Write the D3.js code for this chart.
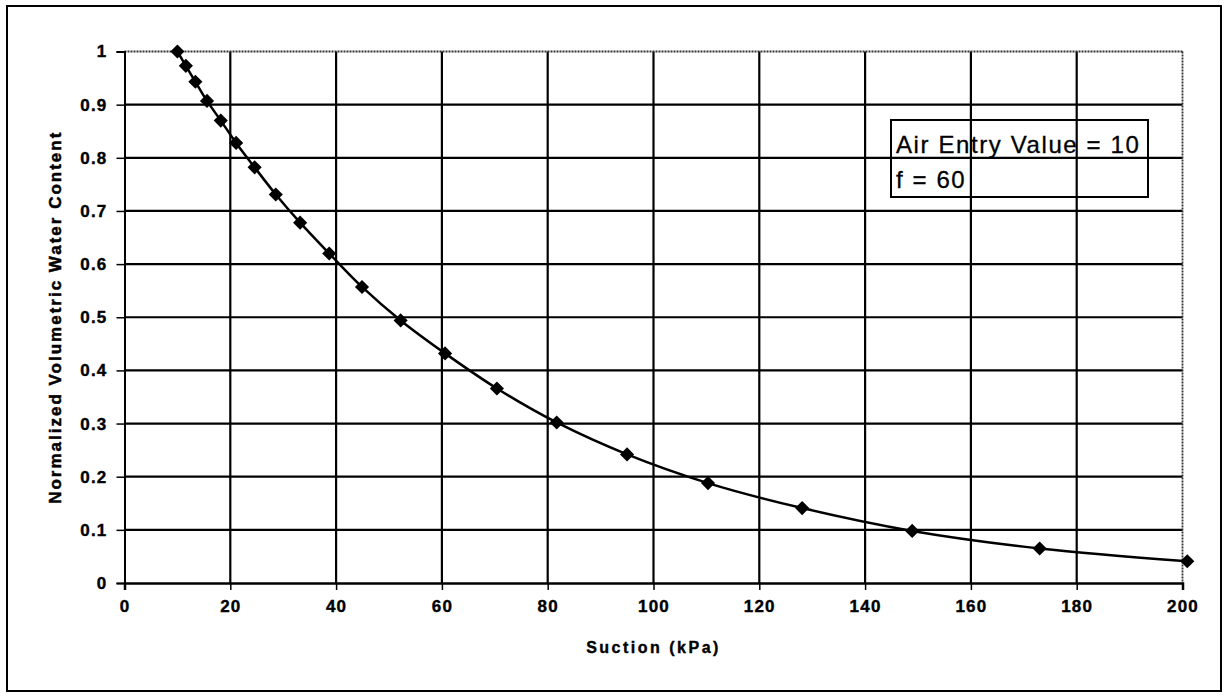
<!DOCTYPE html>
<html>
<head>
<meta charset="utf-8">
<script src="https://cdn.jsdelivr.net/npm/d3@7"></script>
<style>
  html, body { margin: 0; padding: 0; background: #fff; }
  svg { display: block; }
  text { font-family: Arial, "Liberation Sans", Helvetica, sans-serif; fill: #000; }
</style>
</head>
<body>
<svg id="chart" width="1229" height="700"></svg>
<script>
// Suction (kPa) at each computed point
const suction = [10, 11.6, 13.4, 15.6, 18.2, 21.1, 24.6, 28.6, 33.2, 38.7, 44.9,
                 52.2, 60.6, 70.4, 81.7, 95.0, 110.3, 128.1, 148.9, 173.0, 200.9];
// Normalized volumetric water content at each suction
const waterContent = [1.0, 0.973, 0.943, 0.907, 0.870, 0.828, 0.782, 0.731, 0.678, 0.620, 0.557,
                      0.494, 0.432, 0.366, 0.302, 0.242, 0.188, 0.141, 0.098, 0.065, 0.041];

const xTicks = [0, 20, 40, 60, 80, 100, 120, 140, 160, 180, 200];
const yTicks = [0, 0.1, 0.2, 0.3, 0.4, 0.5, 0.6, 0.7, 0.8, 0.9, 1];
const yTickLabels = ["0", "0.1", "0.2", "0.3", "0.4", "0.5", "0.6", "0.7", "0.8", "0.9", "1"];

const noteLines = ["Air Entry Value = 10", "f = 60"];

const svg = d3.select("#chart");

// outer chart border
svg.append("rect")
  .attr("x", 7).attr("y", 6).attr("width", 1214).attr("height", 685)
  .attr("fill", "none").attr("stroke", "#000").attr("stroke-width", 2);

const plot = { left: 124.5, right: 1182.5, top: 51.5, bottom: 583 };

const x = d3.scaleLinear().domain([0, 200]).range([plot.left, plot.right]);
const y = d3.scaleLinear().domain([0, 1]).range([plot.bottom, plot.top]);

// gridlines
const grid = svg.append("g");
grid.selectAll("line.v")
  .data(xTicks.filter(t => t > 0 && t < 200))
  .join("line")
  .attr("x1", d => x(d)).attr("x2", d => x(d))
  .attr("y1", plot.top).attr("y2", plot.bottom)
  .attr("stroke", "#000").attr("stroke-width", 2.2);
grid.selectAll("line.h")
  .data(yTicks.filter(t => t > 0 && t < 1))
  .join("line")
  .attr("x1", plot.left).attr("x2", plot.right)
  .attr("y1", d => y(d)).attr("y2", d => y(d))
  .attr("stroke", "#000").attr("stroke-width", 2.2);

// plot area frame (dotted)
const frame = svg.append("g").attr("fill", "none");
frame.append("line")
  .attr("x1", plot.left).attr("x2", plot.right).attr("y1", plot.top).attr("y2", plot.top)
  .attr("stroke", "#333").attr("stroke-width", 1.8).attr("stroke-dasharray", "2,1");
frame.append("line")
  .attr("x1", plot.right).attr("x2", plot.right).attr("y1", plot.top).attr("y2", plot.bottom)
  .attr("stroke", "#333").attr("stroke-width", 1.8).attr("stroke-dasharray", "2,1");

// x axis
const xAxis = d3.axisBottom(x).tickValues(xTicks).tickSize(7).tickPadding(10).tickFormat(d3.format("d"));
const gx = svg.append("g").attr("transform", `translate(0,${plot.bottom})`).call(xAxis);
gx.select(".domain").attr("stroke", "#000").attr("stroke-width", 2.5);
gx.selectAll(".tick line").attr("stroke", "#000").attr("stroke-width", 1.5);
gx.selectAll(".tick text")
  .attr("font-size", 17).attr("font-weight", "bold").attr("letter-spacing", 1.2)
  .attr("stroke", "#000").attr("stroke-width", 0.4)
  .attr("fill", "#000");

// y axis
const yAxis = d3.axisLeft(y).tickValues(yTicks).tickSize(8).tickPadding(9)
  .tickFormat((d, i) => yTickLabels[i]);
const gy = svg.append("g").attr("transform", `translate(${plot.left},0)`).call(yAxis);
gy.select(".domain").attr("stroke", "#000").attr("stroke-width", 2);
gy.selectAll(".tick line").attr("stroke", "#000").attr("stroke-width", 1.5);
gy.selectAll(".tick text")
  .attr("font-size", 17).attr("font-weight", "bold").attr("letter-spacing", 1.2)
  .attr("stroke", "#000").attr("stroke-width", 0.4)
  .attr("fill", "#000");

// axis titles
svg.append("text")
  .attr("x", (plot.left + plot.right) / 2).attr("y", 653)
  .attr("text-anchor", "middle")
  .attr("font-size", 16).attr("font-weight", "bold").attr("letter-spacing", 2.5)
  .attr("stroke", "#000").attr("stroke-width", 0.4)
  .text("Suction (kPa)");

svg.append("text")
  .attr("transform", `translate(61,${(plot.top + plot.bottom) / 2}) rotate(-90)`)
  .attr("text-anchor", "middle")
  .attr("font-size", 17).attr("font-weight", "bold").attr("letter-spacing", 2)
  .attr("stroke", "#000").attr("stroke-width", 0.5)
  .text("Normalized Volumetric Water Content");

// data
const pts = suction.map((s, i) => ({ s, w: waterContent[i] }));

svg.append("path")
  .datum(pts)
  .attr("fill", "none").attr("stroke", "#000").attr("stroke-width", 2.5)
  .attr("d", d3.line().x(d => x(d.s)).y(d => y(d.w)).curve(d3.curveCatmullRom.alpha(0.5)));

const diamond = d3.symbol().type(d3.symbolSquare).size(100);
svg.append("g").selectAll("path")
  .data(pts)
  .join("path")
  .attr("d", diamond)
  .attr("transform", d => `translate(${x(d.s)},${y(d.w)}) rotate(45)`)
  .attr("fill", "#000");

// note box
const note = svg.append("g");
note.append("rect")
  .attr("x", 891).attr("y", 120).attr("width", 257).attr("height", 77)
  .attr("fill", "none").attr("stroke", "#000").attr("stroke-width", 2);
note.selectAll("text")
  .data(noteLines)
  .join("text")
  .attr("x", 896)
  .attr("y", (d, i) => 153 + i * 35)
  .attr("font-size", 24)
  .attr("letter-spacing", 1.6)
  .attr("stroke", "#000").attr("stroke-width", 0.3)
  .text(d => d);
</script>
</body>
</html>
